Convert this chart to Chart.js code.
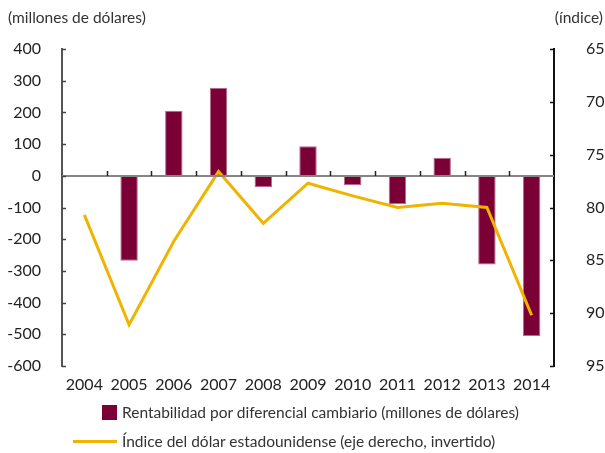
<!DOCTYPE html>
<html>
<head>
<meta charset="utf-8">
<script src="https://cdn.jsdelivr.net/npm/chart.js@4"></script>
<style>
  html, body { margin: 0; padding: 0; background: #fff; }
  #wrap { position: relative; width: 605px; height: 453px; font-family: Lato, sans-serif; color: #333; }
  canvas { position: absolute; left: 0; top: 0; }
  .t { position: absolute; font-size: 15.5px; line-height: 18px; white-space: nowrap; }
  .box { position: absolute; width: 15px; height: 15px; background: #7a0036; }
  .ln { position: absolute; height: 3px; background: #f0b400; }
</style>
</head>
<body>
<div id="wrap">
  <canvas id="c" width="605" height="453"></canvas>
  <div class="t" style="left:8px; top:8px;">(millones de dólares)</div>
  <div class="t" style="right:2px; top:8px;">(índice)</div>
  <div class="box" style="left:102px; top:405px;"></div>
  <div class="t" style="left:122px; top:403px;">Rentabilidad por diferencial cambiario (millones de dólares)</div>
  <div class="ln" style="left:73px; top:440px; width:44px;"></div>
  <div class="t" style="left:122px; top:432px;">Índice del dólar estadounidense (eje derecho, invertido)</div>
</div>
<script>
const categories = ["2004","2005","2006","2007","2008","2009","2010","2011","2012","2013","2014"];
const rentabilidad = [0, -268, 205, 278, -36, 93, -30, -90, 57, -280, -505];
const indiceDolar = [80.7, 91.1, 83.2, 76.6, 81.5, 77.7, 78.9, 80.0, 79.6, 80.0, 90.2];
const leftTicks = [400, 300, 200, 100, 0, -100, -200, -300, -400, -500, -600];
const rightTicks = [65, 70, 75, 80, 85, 90, 95];

const decor = {
  id: 'decor',
  afterDatasetsDraw(chart) {
    const ctx = chart.ctx, ca = chart.chartArea;
    const x = chart.scales.x, y = chart.scales.y, y2 = chart.scales.y2;
    const y0 = Math.round(y.getPixelForValue(0));
    ctx.save();
    ctx.strokeStyle = '#858585';
    ctx.lineWidth = 2;
    ctx.beginPath(); ctx.moveTo(ca.left, y0); ctx.lineTo(ca.right, y0); ctx.stroke();
    ctx.strokeStyle = '#222';
    ctx.lineWidth = 1.5;
    for (let i = 0; i < categories.length - 1; i++) {
      const bx = Math.round((x.getPixelForValue(i) + x.getPixelForValue(i + 1)) / 2) + 0.5;
      ctx.beginPath(); ctx.moveTo(bx, y0); ctx.lineTo(bx, y0 - 5); ctx.stroke();
    }
    ctx.strokeStyle = '#444';
    leftTicks.forEach(v => {
      const py = Math.round(y.getPixelForValue(v)) + 0.5;
      ctx.beginPath(); ctx.moveTo(ca.left, py); ctx.lineTo(ca.left + 4, py); ctx.stroke();
    });
    ctx.strokeStyle = '#111';
    rightTicks.forEach(v => {
      const py = Math.round(y2.getPixelForValue(v)) + 0.5;
      ctx.beginPath(); ctx.moveTo(ca.right, py); ctx.lineTo(ca.right - 4, py); ctx.stroke();
    });
    ctx.restore();
  }
};

const tickFont = { family: 'Lato', size: 16 };

new Chart(document.getElementById('c'), {
  data: {
    labels: categories,
    datasets: [
      {
        type: 'line',
        data: indiceDolar,
        yAxisID: 'y2',
        borderColor: '#f0b400',
        borderWidth: 3,
        pointRadius: 0,
        tension: 0,
        order: 0
      },
      {
        type: 'bar',
        data: rentabilidad,
        yAxisID: 'y',
        backgroundColor: '#7a0036',
        borderColor: '#b86a8e',
        borderWidth: 1,
        barPercentage: 0.39,
        categoryPercentage: 1,
        order: 1
      }
    ]
  },
  plugins: [decor],
  options: {
    responsive: false,
    animation: false,
    layout: { padding: { top: 49, bottom: 0, left: 0, right: 0 } },
    plugins: { legend: { display: false }, tooltip: { enabled: false } },
    scales: {
      x: {
        grid: { display: false, drawTicks: false },
        border: { display: false },
        ticks: { color: '#222', font: tickFont, padding: 9, maxRotation: 0, autoSkip: false },
        afterFit(s) { s.height = 87; }
      },
      y: {
        position: 'left',
        min: -600, max: 400,
        afterBuildTicks(s) { s.ticks = leftTicks.map(v => ({ value: v })); },
        grid: { display: false, drawTicks: false },
        border: { display: true, color: '#555', width: 2 },
        ticks: { color: '#222', font: tickFont, padding: 21 },
        afterFit(s) { s.width = 62; }
      },
      y2: {
        position: 'right',
        min: 65, max: 95,
        reverse: true,
        afterBuildTicks(s) { s.ticks = rightTicks.map(v => ({ value: v })); },
        grid: { display: false, drawTicks: false },
        border: { display: true, color: '#111', width: 2 },
        ticks: { color: '#222', font: tickFont, padding: 32 },
        afterFit(s) { s.width = 51; }
      }
    }
  }
});
</script>
</body>
</html>
